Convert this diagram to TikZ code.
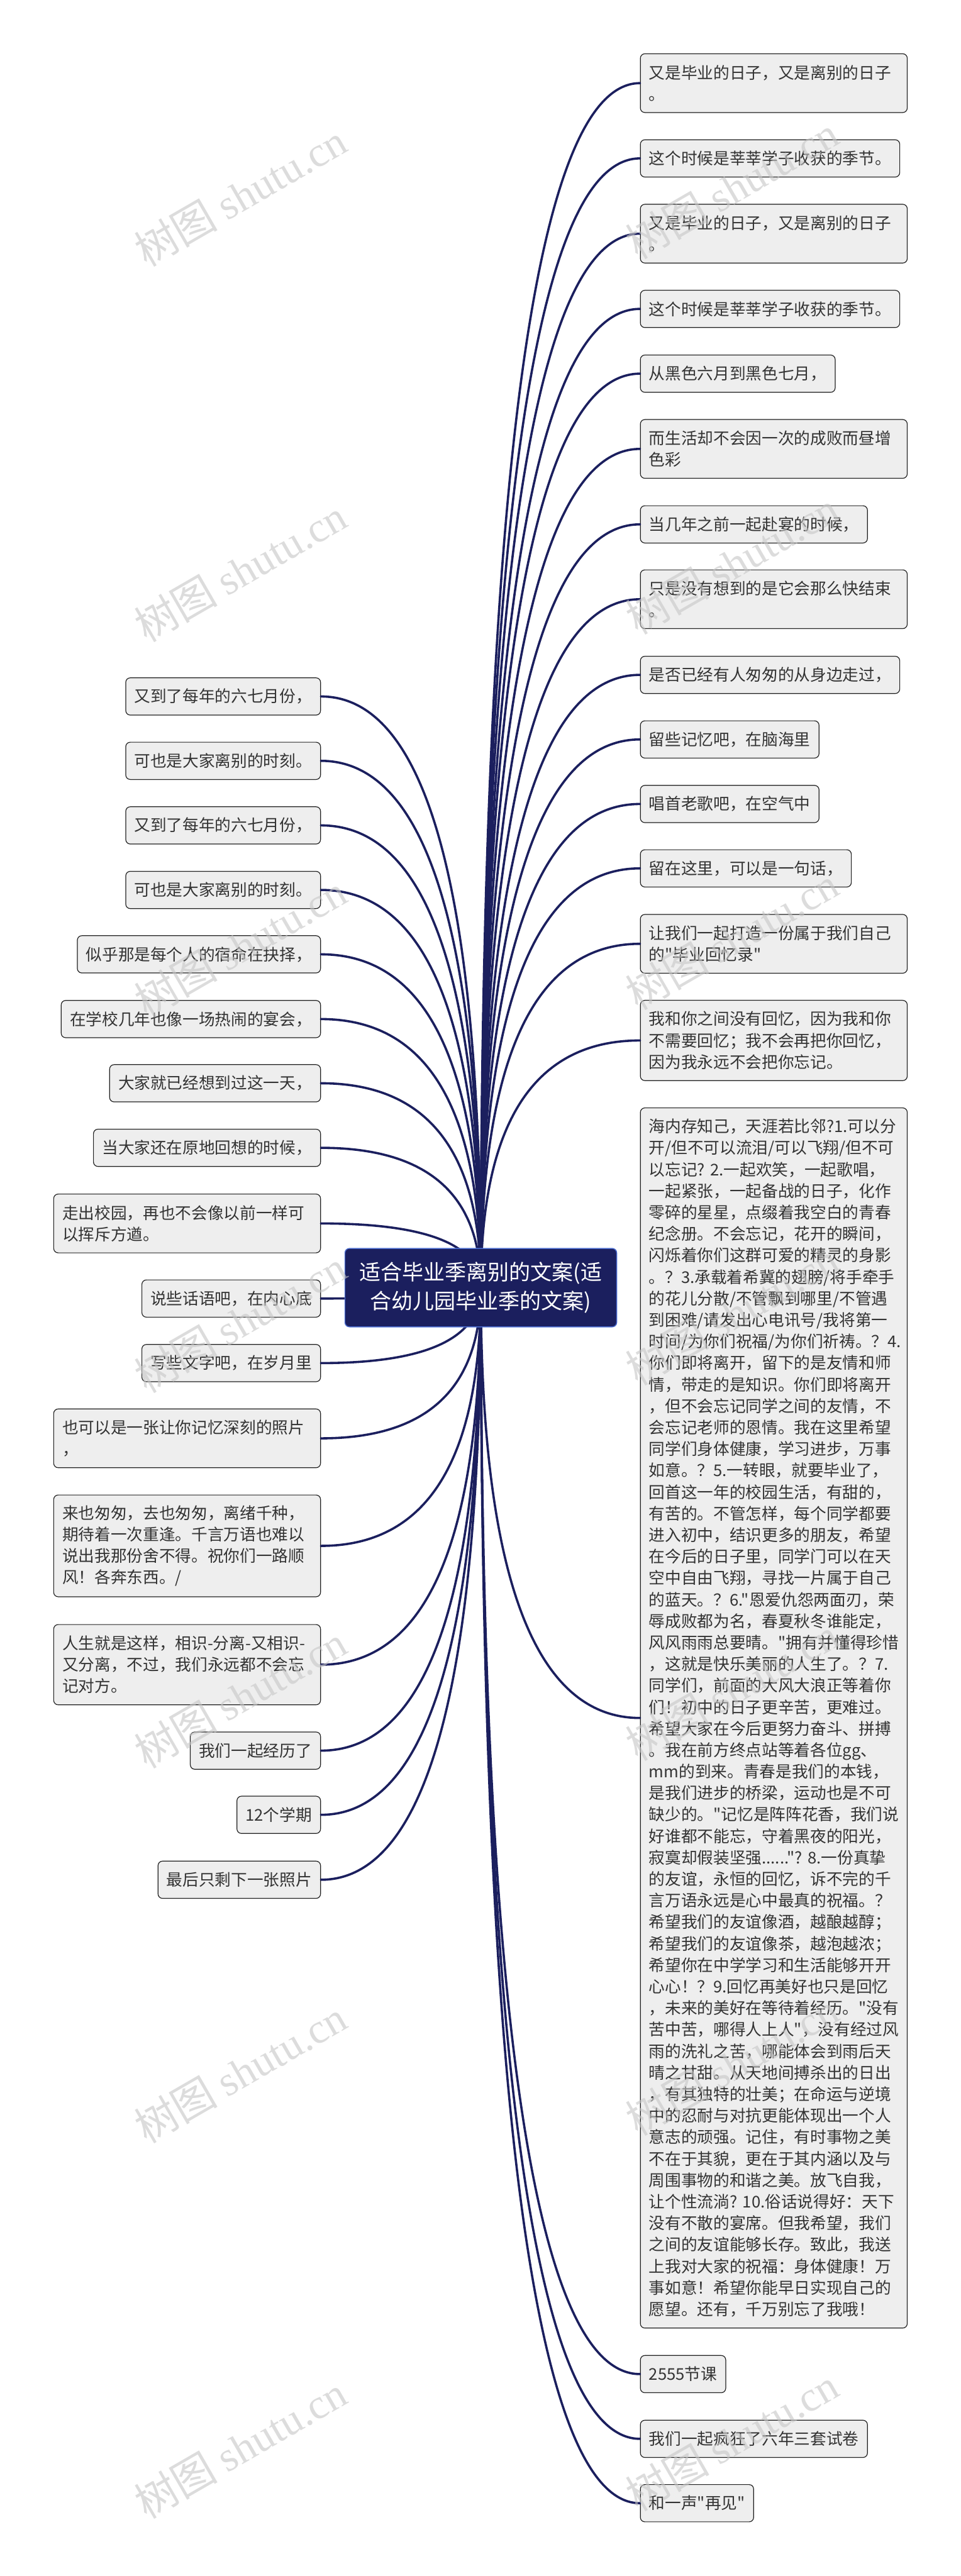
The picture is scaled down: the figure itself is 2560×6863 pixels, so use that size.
\documentclass[tikz,border=0pt]{standalone}
\usepackage{fontspec}
\setmainfont{Noto Sans CJK SC}[Ligatures=TeXOff]
\newfontfamily\wmfont{Liberation Serif}
\usetikzlibrary{calc}
\definecolor{mapnavy}{HTML}{1B1F5E}
\definecolor{rootline}{HTML}{4A6CD0}
\definecolor{boxfill}{HTML}{EEEEEE}
\definecolor{boxline}{HTML}{222222}
\definecolor{boxtext}{HTML}{333333}
\begin{document}
\begin{tikzpicture}[x=0.25pt,y=-0.25pt,
    leaf/.style={draw=boxline,line width=0.5pt,fill=boxfill,rounded corners=3pt,
      text=boxtext,inner xsep=5.75pt,inner ysep=2pt,align=left,nlines=1,
      font=\fontsize{10.75pt}{14.325pt}\selectfont},
    nlines/.style={minimum height={(10.5+14.325*#1)*1pt}},
    wide/.style={text width=166.25pt},
    rleaf/.style={leaf,anchor=west},
    lleaf/.style={leaf,anchor=east},
    link/.style={draw=mapnavy,line width=1.5pt,line cap=round},
    root/.style={fill=mapnavy,draw=rootline,line width=0.6pt,rounded corners=3pt,
      text=white,align=center,inner sep=0pt,minimum width=181pt,minimum height=52.25pt,
      font=\fontsize{14.25pt}{19pt}\selectfont},
    wmtext/.style={text=gray!45,opacity=0.6,rotate=30,font=\fontsize{28pt}{32pt}\selectfont}]
    \fill[white] (0,0) rectangle (2560,6863);
    \useasboundingbox (0,0) rectangle (2560,6863);
    \coordinate (hub) at (1281,3430.5);

    % right side
    \node[rleaf,wide,nlines=2] (r1) at (1705,221.5) {又是毕业的日子，又是离别的日子\\。};
    \node[rleaf] (r2) at (1705,422) {这个时候是莘莘学子收获的季节。};
    \node[rleaf,wide,nlines=2] (r3) at (1705,622.5) {又是毕业的日子，又是离别的日子\\。};
    \node[rleaf] (r4) at (1705,823) {这个时候是莘莘学子收获的季节。};
    \node[rleaf] (r5) at (1705,995.5) {从黑色六月到黑色七月，};
    \node[rleaf,wide,nlines=2] (r6) at (1705,1196) {而生活却不会因一次的成败而昼增\\色彩};
    \node[rleaf] (r7) at (1705,1397) {当几年之前一起赴宴的时候，};
    \node[rleaf,wide,nlines=2] (r8) at (1705,1596.5) {只是没有想到的是它会那么快结束\\。};
    \node[rleaf] (r9) at (1705,1798) {是否已经有人匆匆的从身边走过，};
    \node[rleaf] (r10) at (1705,1970) {留些记忆吧，在脑海里};
    \node[rleaf] (r11) at (1705,2142) {唱首老歌吧，在空气中};
    \node[rleaf] (r12) at (1705,2313.5) {留在这里，可以是一句话，};
    \node[rleaf,wide,nlines=2] (r13) at (1705,2514.5) {让我们一起打造一份属于我们自己\\的"毕业回忆录"};
    \node[rleaf,wide,nlines=3] (r14) at (1705,2772) {我和你之间没有回忆，因为我和你\\不需要回忆；我不会再把你回忆，\\因为我永远不会把你忘记。};
    \node[rleaf,wide,nlines=56] (r15) at (1705,4577) {海内存知己，天涯若比邻?1.可以分\\
      开/但不可以流泪/可以飞翔/但不可\\
      以忘记?~2.一起欢笑，一起歌唱，\\
      一起紧张，一起备战的日子，化作\\
      零碎的星星，点缀着我空白的青春\\
      纪念册。不会忘记，花开的瞬间，\\
      闪烁着你们这群可爱的精灵的身影\\
      。？3.承载着希冀的翅膀/将手牵手\\
      的花儿分散/不管飘到哪里/不管遇\\
      到困难/请发出心电讯号/我将第一\\
      时间/为你们祝福/为你们祈祷。？4.\\
      你们即将离开，留下的是友情和师\\
      情，带走的是知识。你们即将离开\\
      ，但不会忘记同学之间的友情，不\\
      会忘记老师的恩情。我在这里希望\\
      同学们身体健康，学习进步，万事\\
      如意。？5.一转眼，就要毕业了，\\
      回首这一年的校园生活，有甜的，\\
      有苦的。不管怎样，每个同学都要\\
      进入初中，结识更多的朋友，希望\\
      在今后的日子里，同学门可以在天\\
      空中自由飞翔，寻找一片属于自己\\
      的蓝天。？6."恩爱仇怨两面刃，荣\\
      辱成败都为名，春夏秋冬谁能定，\\
      风风雨雨总要晴。"拥有并懂得珍惜\\
      ，这就是快乐美丽的人生了。？7.\\
      同学们，前面的大风大浪正等着你\\
      们！初中的日子更辛苦，更难过。\\
      希望大家在今后更努力奋斗、拼搏\\
      。我在前方终点站等着各位gg、\\
      mm的到来。青春是我们的本钱，\\
      是我们进步的桥梁，运动也是不可\\
      缺少的。"记忆是阵阵花香，我们说\\
      好谁都不能忘，守着黑夜的阳光，\\
      寂寞却假装坚强......"?~8.一份真挚\\
      的友谊，永恒的回忆，诉不完的千\\
      言万语永远是心中最真的祝福。？\\
      希望我们的友谊像酒，越酿越醇；\\
      希望我们的友谊像茶，越泡越浓；\\
      希望你在中学学习和生活能够开开\\
      心心！？9.回忆再美好也只是回忆\\
      ，未来的美好在等待着经历。"没有\\
      苦中苦，哪得人上人"，没有经过风\\
      雨的洗礼之苦，哪能体会到雨后天\\
      晴之甘甜。从天地间搏杀出的日出\\
      ，有其独特的壮美；在命运与逆境\\
      中的忍耐与对抗更能体现出一个人\\
      意志的顽强。记住，有时事物之美\\
      不在于其貌，更在于其内涵以及与\\
      周围事物的和谐之美。放飞自我，\\
      让个性流淌?~10.俗话说得好：天下\\
      没有不散的宴席。但我希望，我们\\
      之间的友谊能够长存。致此，我送\\
      上我对大家的祝福：身体健康！万\\
      事如意！希望你能早日实现自己的\\
      愿望。还有，千万别忘了我哦！};
    \node[rleaf] (r16) at (1705,6325) {2555节课};
    \node[rleaf] (r17) at (1705,6497.5) {我们一起疯狂了六年三套试卷};
    \node[rleaf] (r18) at (1705,6669) {和一声"再见"};

    % left side
    \node[lleaf] (l1) at (855,1855.5) {又到了每年的六七月份，};
    \node[lleaf] (l2) at (855,2027) {可也是大家离别的时刻。};
    \node[lleaf] (l3) at (855,2199) {又到了每年的六七月份，};
    \node[lleaf] (l4) at (855,2371) {可也是大家离别的时刻。};
    \node[lleaf] (l5) at (855,2542.5) {似乎那是每个人的宿命在抉择，};
    \node[lleaf] (l6) at (855,2715) {在学校几年也像一场热闹的宴会，};
    \node[lleaf] (l7) at (855,2886) {大家就已经想到过这一天，};
    \node[lleaf] (l8) at (855,3058) {当大家还在原地回想的时候，};
    \node[lleaf,wide,nlines=2] (l9) at (855,3259.5) {走出校园，再也不会像以前一样可\\以挥斥方遒。};
    \node[lleaf] (l10) at (855,3459.5) {说些话语吧，在内心底};
    \node[lleaf] (l11) at (855,3631.5) {写些文字吧，在岁月里};
    \node[lleaf,wide,nlines=2] (l12) at (855,3832) {也可以是一张让你记忆深刻的照片\\，};
    \node[lleaf,wide,nlines=4] (l13) at (855,4118.5) {来也匆匆，去也匆匆，离绪千种，\\期待着一次重逢。千言万语也难以\\说出我那份舍不得。祝你们一路顺\\风！各奔东西。/};
    \node[lleaf,wide,nlines=3] (l14) at (855,4435) {人生就是这样，相识-分离-又相识-\\又分离，不过，我们永远都不会忘\\记对方。};
    \node[lleaf] (l15) at (855,4664) {我们一起经历了};
    \node[lleaf] (l16) at (855,4835) {12个学期};
    \node[lleaf] (l17) at (855,5008) {最后只剩下一张照片};

    % links from the hub
    \foreach \i in {1,...,18}
      \draw[link] (hub) .. controls ($(hub)!2/3!(hub |- r\i.west)$) and ($(r\i.west)!2/3!(hub |- r\i.west)$) .. (r\i.west);
    \foreach \i in {1,...,17}
      \draw[link] (hub) .. controls ($(hub)!2/3!(hub |- l\i.east)$) and ($(l\i.east)!2/3!(hub |- l\i.east)$) .. (l\i.east);

    \node[root] (root) at (hub) {适合毕业季离别的文案(适\\合幼儿园毕业季的文案)};

    % watermark
    \foreach \k in {0,...,6} {
      \node[wmtext] (wl\k) at (640,520+1000*\k) {树图 {\wmfont shutu.cn}};
      \node[wmtext] (wr\k) at (1950,500+1000*\k) {树图 {\wmfont shutu.cn}};
    }
\end{tikzpicture}
\end{document}
